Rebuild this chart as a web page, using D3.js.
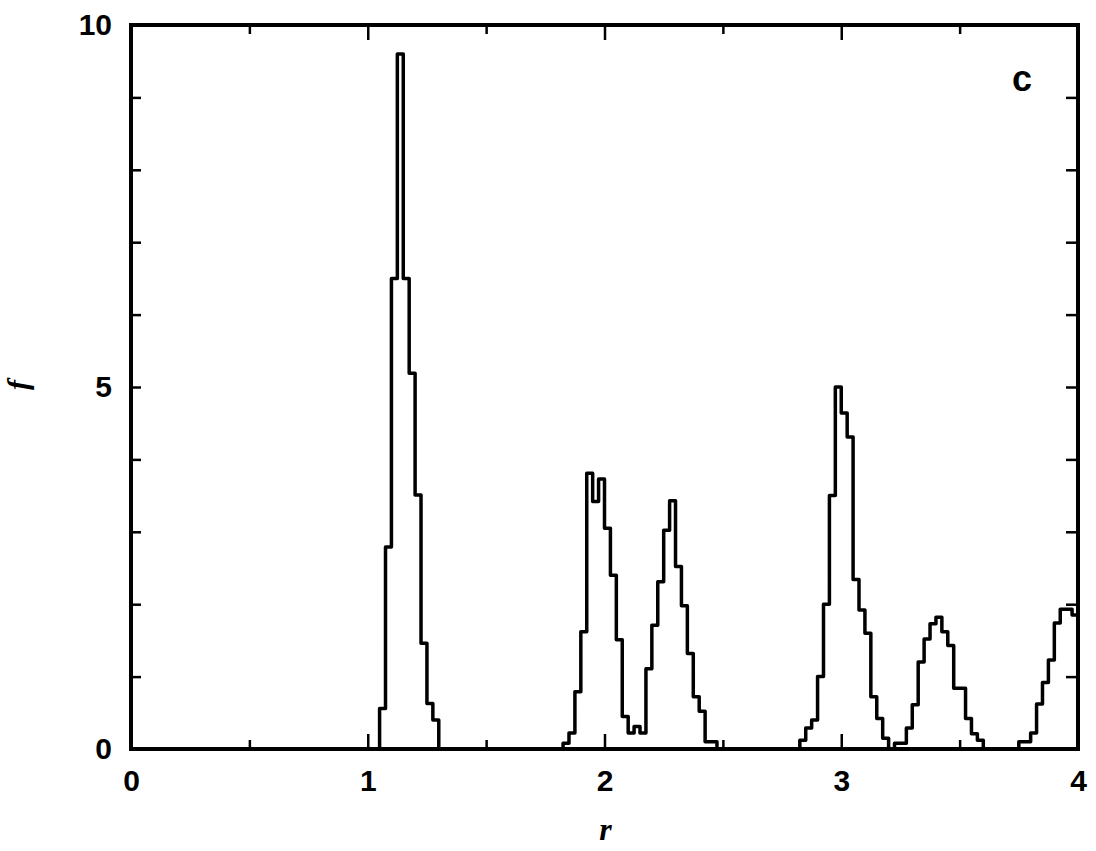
<!DOCTYPE html>
<html>
<head>
<meta charset="utf-8">
<script src="https://cdnjs.cloudflare.com/ajax/libs/d3/7.8.5/d3.min.js"></script>
<style>
  html, body { margin: 0; padding: 0; background: #fff; }
  svg { display: block; }
</style>
</head>
<body>
<div class="chart"></div>
<script>
// Histogram f(r): left edge of each step and its height (bin width 0.025)
var rSteps = [0, 1.05, 1.075, 1.1, 1.125, 1.15, 1.175, 1.2, 1.225, 1.25, 1.275, 1.3,
    1.825, 1.85, 1.875, 1.9, 1.925, 1.95, 1.975, 2.0, 2.025, 2.05, 2.075, 2.1, 2.125, 2.15,
    2.175, 2.2, 2.225, 2.25, 2.275, 2.3, 2.325, 2.35, 2.375, 2.4, 2.425, 2.475,
    2.825, 2.85, 2.875, 2.9, 2.925, 2.95, 2.975, 3.0, 3.025, 3.05, 3.075, 3.1, 3.125, 3.15, 3.175, 3.2,
    3.225, 3.275, 3.3, 3.325, 3.35, 3.375, 3.4, 3.425, 3.45, 3.475, 3.525, 3.55, 3.575, 3.6,
    3.75, 3.8, 3.825, 3.85, 3.875, 3.9, 3.925, 3.975, 4.0];
var fSteps = [0, 0.56, 2.79, 6.5, 9.6, 6.5, 5.19, 3.51, 1.46, 0.63, 0.40, 0,
    0.08, 0.22, 0.79, 1.62, 3.81, 3.42, 3.73, 3.05, 2.40, 1.51, 0.45, 0.22, 0.31, 0.22,
    1.11, 1.71, 2.31, 3.02, 3.43, 2.52, 1.98, 1.32, 0.72, 0.52, 0.10, 0,
    0.12, 0.29, 0.40, 1.0, 2.0, 3.5, 5.0, 4.64, 4.31, 2.34, 1.92, 1.60, 0.72, 0.42, 0.15, 0,
    0.08, 0.29, 0.61, 1.2, 1.52, 1.73, 1.82, 1.62, 1.43, 0.84, 0.42, 0.21, 0.12, 0,
    0.10, 0.22, 0.62, 0.92, 1.23, 1.74, 1.93, 1.85, 1.85];

var xMajor = [0, 1, 2, 3, 4];
var xMinor = [0.5, 1.5, 2.5, 3.5];
var yTicks = [0, 1, 2, 3, 4, 5, 6, 7, 8, 9, 10];
var yLabels = [0, 5, 10];
var xTitle = 'r';
var yTitle = 'f';
var panelTag = 'c';

var w = 1096;
var h = 851;
var plotLeft = 131;
var plotRight = 1078;
var plotTop = 25;
var plotBottom = 749;
var numFont = '"Liberation Sans", Arial, sans-serif';
var titleFont = '"Liberation Serif", "Times New Roman", serif';

var svg = d3.select('.chart')
    .append('svg')
        .attr('width', w)
        .attr('height', h);

var x = d3.scaleLinear().domain([0, 4]).range([plotLeft, plotRight]);
var y = d3.scaleLinear().domain([0, 10]).range([plotBottom, plotTop]);

function tidy(g) {
    g.select('.domain').remove();
    g.selectAll('line').attr('stroke', '#000').attr('stroke-width', 2.5);
    g.attr('font-family', numFont).attr('font-size', 30).attr('font-weight', 'bold');
    g.selectAll('text').attr('fill', '#000');
}

// Bottom axis (major ticks with labels, minor ticks)
svg.append('g')
    .attr('transform', 'translate(0,' + plotBottom + ')')
    .call(d3.axisBottom(x).tickValues(xMajor).tickSizeInner(-15).tickSizeOuter(0)
        .tickPadding(21).tickFormat(d3.format('d')))
    .call(tidy);
svg.append('g')
    .attr('transform', 'translate(0,' + plotBottom + ')')
    .call(d3.axisBottom(x).tickValues(xMinor).tickSizeInner(-9).tickSizeOuter(0).tickFormat(''))
    .call(tidy);

// Top axis, ticks only
svg.append('g')
    .attr('transform', 'translate(0,' + plotTop + ')')
    .call(d3.axisTop(x).tickValues(xMajor).tickSizeInner(-15).tickSizeOuter(0).tickFormat(''))
    .call(tidy);
svg.append('g')
    .attr('transform', 'translate(0,' + plotTop + ')')
    .call(d3.axisTop(x).tickValues(xMinor).tickSizeInner(-9).tickSizeOuter(0).tickFormat(''))
    .call(tidy);

// Left axis: ticks at every unit, labels at 0, 5, 10
svg.append('g')
    .attr('transform', 'translate(' + plotLeft + ',0)')
    .call(d3.axisLeft(y).tickValues(yTicks).tickSizeInner(-10).tickSizeOuter(0).tickPadding(19)
        .tickFormat(function (d) { return yLabels.indexOf(d) >= 0 ? d : ''; }))
    .call(tidy);

// Right axis, ticks only
svg.append('g')
    .attr('transform', 'translate(' + plotRight + ',0)')
    .call(d3.axisRight(y).tickValues(yTicks).tickSizeInner(-12).tickSizeOuter(0).tickFormat(''))
    .call(tidy);

// Histogram as a step line
var pts = rSteps.map(function (r, i) { return [r, fSteps[i]]; });
var stepLine = d3.line()
    .x(function (d) { return x(d[0]); })
    .y(function (d) { return y(d[1]); })
    .curve(d3.curveStepAfter);

svg.append('path')
    .datum(pts)
    .attr('d', stepLine)
    .attr('fill', 'none')
    .attr('stroke', '#000')
    .attr('stroke-width', 3.5)
    .attr('stroke-linejoin', 'round');

// Frame
svg.append('rect')
    .attr('x', plotLeft)
    .attr('y', plotTop)
    .attr('width', plotRight - plotLeft)
    .attr('height', plotBottom - plotTop)
    .attr('fill', 'none')
    .attr('stroke', '#000')
    .attr('stroke-width', 4);

// Panel tag
svg.append('text')
    .attr('x', 1022)
    .attr('y', 91)
    .attr('text-anchor', 'middle')
    .attr('font-family', numFont)
    .attr('font-weight', 'bold')
    .attr('font-size', 36)
    .text(panelTag);

// Axis titles
svg.append('text')
    .attr('x', (plotLeft + plotRight) / 2 + 1)
    .attr('y', 840)
    .attr('text-anchor', 'middle')
    .attr('font-family', titleFont)
    .attr('font-style', 'italic')
    .attr('font-weight', 'bold')
    .attr('font-size', 32)
    .text(xTitle);

svg.append('text')
    .attr('transform', 'translate(28,385) rotate(-90)')
    .attr('text-anchor', 'middle')
    .attr('font-family', titleFont)
    .attr('font-style', 'italic')
    .attr('font-weight', 'bold')
    .attr('font-size', 30)
    .text(yTitle);
</script>
</body>
</html>
